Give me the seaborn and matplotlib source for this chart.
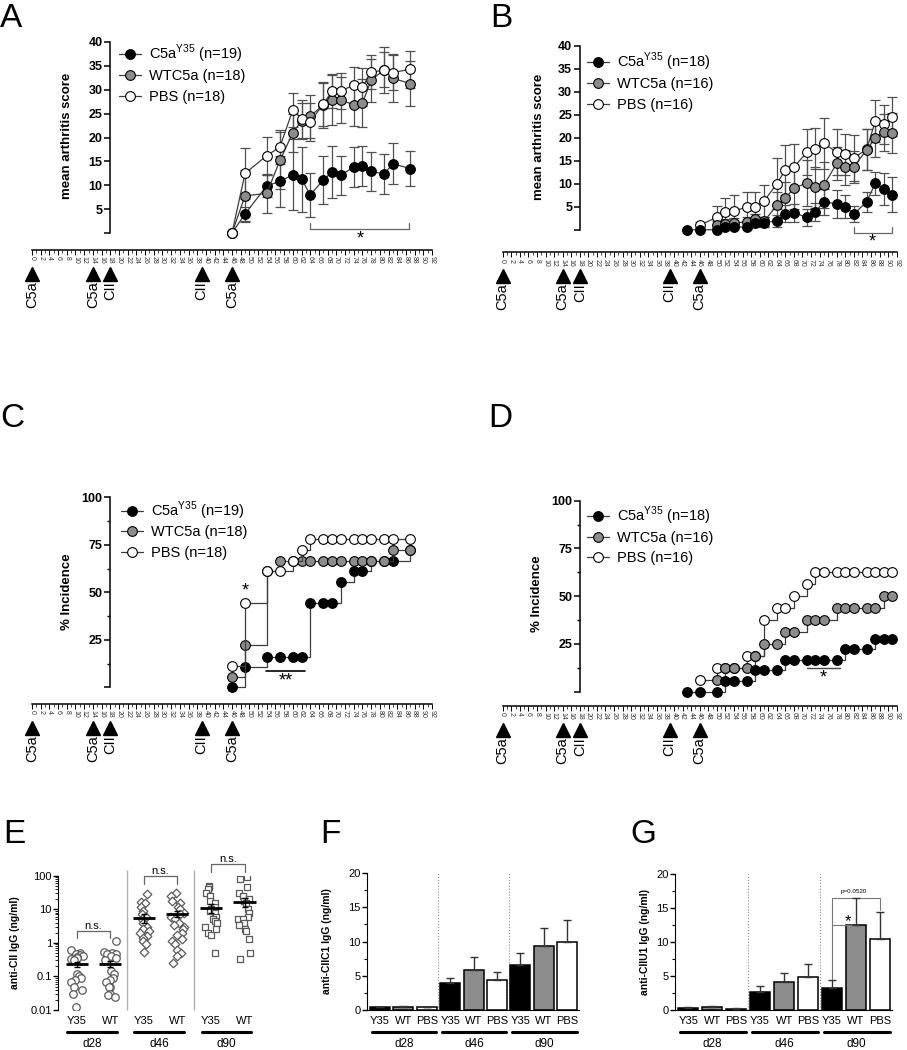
import warnings
import numpy as np
import pandas as pd
import matplotlib
matplotlib.use("Agg")
import matplotlib.pyplot as plt
import seaborn as sns
from matplotlib.lines import Line2D
from matplotlib.ticker import MultipleLocator, LogLocator, NullFormatter
from matplotlib.transforms import blended_transform_factory

warnings.filterwarnings("ignore")
np.random.seed(7)  # only for the horizontal jitter of the dot plot

# ---------------- data ----------------
# A: mean arthritis score (mean, SEM)
days_a = [46, 49, 54, 57, 60, 62, 64, 67, 69, 71, 74, 76, 78, 81, 83, 87]
a_y35 = [0, 4.0, 9.9, 10.8, 12.2, 11.3, 8.0, 11.1, 12.8, 12.1, 13.8, 14.1, 12.9, 12.4, 14.5, 13.5]
a_y35_sem = [0, 1.5, 2.3, 5.3, 7.4, 6.8, 4.6, 5.0, 5.4, 4.1, 4.2, 4.2, 4.0, 4.2, 4.3, 3.7]
a_wt = [0, 7.8, 8.3, 15.2, 21.0, 23.5, 24.5, 26.8, 27.9, 27.8, 26.9, 27.2, 32.0, 34.2, 32.4, 31.3]
a_wt_sem = [0, 5.5, 4.0, 6.0, 4.0, 3.8, 4.5, 4.8, 5.2, 4.8, 4.5, 5.0, 4.5, 3.7, 5.0, 4.8]
a_pbs = [0, 12.5, 16.2, 18.0, 25.8, 23.9, 23.3, 27.0, 29.7, 29.7, 31.0, 30.6, 33.7, 34.1, 33.6, 34.3]
a_pbs_sem = [0, 5.3, 4.0, 3.5, 3.6, 4.0, 4.0, 4.5, 3.5, 3.8, 3.8, 4.0, 3.5, 4.8, 3.7, 3.9]

# B: mean arthritis score (mean, SEM)
days_b_y35 = [43, 46, 50, 52, 54, 57, 59, 61, 64, 66, 68, 71, 73, 75, 78, 80, 82, 85, 87, 89, 91]
b_y35 = [0, 0, 0, 0.7, 0.7, 0.5, 1.5, 1.5, 2.0, 3.5, 3.7, 2.7, 3.9, 6.1, 5.6, 5.0, 3.4, 6.1, 10.1, 8.8, 7.6]
b_y35_sem = [0, 0, 0.3, 0.4, 0.4, 0.4, 0.8, 0.8, 1.3, 1.8, 2.0, 1.8, 2.0, 2.8, 3.0, 2.5, 1.8, 2.2, 2.5, 3.5, 3.8]
days_b_wt = [50, 52, 54, 57, 59, 61, 64, 66, 68, 71, 73, 75, 78, 80, 82, 85, 87, 89, 91]
b_wt = [1.0, 1.3, 1.5, 1.7, 2.3, 1.8, 5.3, 6.8, 9.1, 10.1, 9.2, 9.7, 14.4, 13.6, 13.7, 17.4, 19.9, 21.2, 21.0]
b_wt_sem = [0.8, 1.0, 1.0, 1.0, 1.2, 1.0, 3.0, 3.5, 4.5, 5.0, 4.5, 5.0, 3.5, 3.8, 3.5, 4.5, 4.0, 4.0, 4.3]
days_b_pbs = [46, 50, 52, 54, 57, 59, 61, 64, 66, 68, 71, 73, 75, 78, 80, 82, 85, 87, 89, 91]
b_pbs = [1.0, 2.7, 3.8, 4.1, 4.9, 4.9, 6.2, 10.0, 13.0, 13.6, 16.8, 17.6, 18.8, 16.8, 16.4, 15.6, 17.5, 23.6, 22.9, 24.6]
b_pbs_sem = [0.7, 2.5, 3.0, 3.5, 3.2, 3.2, 3.5, 5.5, 5.5, 5.0, 5.0, 4.5, 5.5, 5.0, 4.5, 5.0, 4.5, 4.5, 4.3, 4.3]

# C: % incidence
days_c = [46, 49, 54, 57, 60, 62, 64, 67, 69, 71, 74, 76, 78, 81, 83, 87]
c_y35 = [0, 10.5, 15.8, 15.8, 15.8, 15.8, 44.4, 44.4, 44.4, 55.6, 61.1, 61.1, 66.7, 66.7, 66.7, 72.2]
c_wt = [5.6, 22.2, 61.1, 66.7, 66.7, 66.7, 66.7, 66.7, 66.7, 66.7, 66.7, 66.7, 66.7, 66.7, 72.2, 72.2]
c_pbs = [11.1, 44.4, 61.1, 61.1, 66.7, 72.2, 77.8, 77.8, 77.8, 77.8, 77.8, 77.8, 77.8, 77.8, 77.8, 77.8]

# D: % incidence
days_d_y35 = [43, 46, 50, 52, 54, 57, 59, 61, 64, 66, 68, 71, 73, 75, 78, 80, 82, 85, 87, 89, 91]
d_y35 = [0, 0, 0, 5.6, 5.6, 5.6, 11.1, 11.1, 11.1, 16.7, 16.7, 16.7, 16.7, 16.7, 16.7, 22.2, 22.2, 22.2, 27.8, 27.8, 27.8]
days_d_wt = [50, 52, 54, 57, 59, 61, 64, 66, 68, 71, 73, 75, 78, 80, 82, 85, 87, 89, 91]
d_wt = [6.25, 12.5, 12.5, 12.5, 18.75, 25.0, 25.0, 31.25, 31.25, 37.5, 37.5, 37.5, 43.75, 43.75, 43.75, 43.75, 43.75, 50.0, 50.0]
days_d_pbs = [46, 50, 52, 54, 57, 59, 61, 64, 66, 68, 71, 73, 75, 78, 80, 82, 85, 87, 89, 91]
d_pbs = [6.25, 12.5, 12.5, 12.5, 18.75, 18.75, 37.5, 43.75, 43.75, 50.0, 56.25, 62.5, 62.5, 62.5, 62.5, 62.5, 62.5, 62.5, 62.5, 62.5]

# injection schedule
inject_days = [0, 14, 18, 39, 46]
inject_labels = ["C5a", "C5a", "CII", "CII", "C5a"]

# E: anti-CII IgG (ng/ml), individual mice
e_y35_d28 = [0.6, 0.5, 0.45, 0.42, 0.4, 0.38, 0.35, 0.32, 0.3, 0.12, 0.1, 0.09, 0.08, 0.07, 0.05, 0.04, 0.03, 0.012]
e_wt_d28 = [1.1, 0.55, 0.5, 0.48, 0.45, 0.4, 0.35, 0.3, 0.15, 0.12, 0.09, 0.08, 0.07, 0.05, 0.05, 0.03, 0.028, 0.025]
e_y35_d46 = [28, 16, 15, 12, 9, 7, 6, 5, 4, 3, 2.5, 2.2, 2, 1.6, 1.4, 1.1, 0.9, 0.55]
e_wt_d46 = [30, 25, 18, 15, 12, 10, 8, 7, 6, 5, 4, 3.5, 3, 2.5, 2, 1.7, 1.3, 1.1, 0.9, 0.6, 0.5, 0.4, 0.25]
e_y35_d90 = [50, 45, 40, 30, 25, 18, 15, 12, 10, 9, 8, 6, 5, 4.5, 4, 3, 2.5, 2, 1.7, 0.5]
e_wt_d90 = [90, 80, 45, 30, 25, 20, 18, 15, 10, 8, 6, 5, 5, 4, 3.5, 2.5, 2.2, 1.3, 0.5, 0.33]
e_means = [0.23, 0.24, 5.5, 7.3, 11, 17]
e_sems = [0.04, 0.05, 1.5, 1.5, 3, 5]
e_ticks = ["Y35", "WT", "Y35", "WT", "Y35", "WT"]
day_groups = ["d28", "d46", "d90"]

# F / G: bars (mean, SEM)
bar_ticks = ["Y35", "WT", "PBS"] * 3
f_vals = [0.4, 0.5, 0.4, 3.9, 5.9, 4.4, 6.5, 9.3, 10.0]
f_sem = [0.05, 0.06, 0.05, 0.7, 1.9, 1.1, 1.8, 2.7, 3.2]
g_vals = [0.35, 0.45, 0.2, 2.6, 4.2, 4.8, 3.3, 12.6, 10.4]
g_sem = [0.05, 0.08, 0.03, 0.9, 1.3, 2.0, 1.1, 3.9, 4.0]

# ---------------- style ----------------
sns.set_style("ticks")
plt.rcParams["font.family"] = ["Liberation Sans", "DejaVu Sans"]
plt.rcParams.update({
    "text.color": "black",
    "axes.edgecolor": "black",
    "xtick.color": "black",
    "ytick.color": "black",
    "axes.labelcolor": "black",
})

BLACK, GRAY, WHITE = "black", "#8c8c8c", "white"
LINE = "#3c3c3c"
ERR = "#505050"

W, H = 907, 1050
fig = plt.figure(figsize=(W / 100, H / 100), dpi=100)


def fx(px):
    return px / W


def fy(py):
    return 1 - py / H


def add_ax(l, r, t, b):
    return fig.add_axes([fx(l), fy(b), (r - l) / W, (b - t) / H])


def legend_rows(xm, ys, labels):
    for y, lab, fc in zip(ys, labels, [BLACK, GRAY, WHITE]):
        fig.add_artist(Line2D([fx(xm - 11), fx(xm + 11)], [fy(y), fy(y)], color=LINE, lw=0.9))
        fig.add_artist(Line2D([fx(xm)], [fy(y)], marker="o", ms=7, mfc=fc, mec="k", mew=0.8))
        fig.text(fx(xm + 19), fy(y + 5), lab, ha="left", va="baseline", fontsize=10.5)


def mean_series(ax, days, vals, sem, fc, z):
    ax.errorbar(days, vals, yerr=sem, fmt="none", ecolor=ERR, elinewidth=0.9,
                capsize=3.6, capthick=0.9, zorder=1)
    sns.lineplot(x=days, y=vals, ax=ax, color=LINE, lw=0.9, marker="o", markersize=7,
                 markerfacecolor=fc, markeredgecolor="k", markeredgewidth=0.8,
                 errorbar=None, zorder=z, clip_on=False)


def step_series(ax, days, vals, fc, z):
    sns.lineplot(x=days, y=vals, ax=ax, color=LINE, lw=0.9, drawstyle="steps-post",
                 marker="o", markersize=7, markerfacecolor=fc, markeredgecolor="k",
                 markeredgewidth=0.8, errorbar=None, zorder=z, clip_on=False)


def time_axis(ax, ymin, ymax, ystep, ylab, lab_xy, axis_py, minor=None):
    ax.set_xlim(0, 92)
    ax.set_ylim(ymin, ymax)
    sns.despine(ax=ax)
    ax.spines["left"].set_position(("data", 18))
    ax.spines["left"].set_bounds(0, ymax)
    ax.spines["left"].set_linewidth(1.1)
    ax.spines["bottom"].set_linewidth(1.1)
    yt = list(range(0, ymax + 1, ystep))
    ax.set_yticks(yt)
    ax.set_yticklabels([""] + [str(v) for v in yt[1:]], fontsize=9, fontweight="bold")
    if minor:
        ax.yaxis.set_minor_locator(MultipleLocator(minor))
        ax.tick_params(axis="y", which="minor", length=2.5, width=1)
    ax.set_xticks(range(0, 93, 2))
    ax.set_xticks(range(0, 93), minor=True)
    ax.set_xticklabels([str(d) for d in range(0, 93, 2)], rotation=-90, fontsize=5,
                       color="#333")
    ax.tick_params(axis="x", which="major", length=3.5, width=0.7, pad=1)
    ax.tick_params(axis="x", which="minor", length=2, width=0.5)
    ax.tick_params(axis="y", which="major", length=4, width=1.1, pad=1.5)
    ax.set_xlabel("")
    ax.set_ylabel(ylab, fontsize=9.5, fontweight="bold")
    ax.yaxis.set_label_coords(*lab_xy)
    ax.yaxis.label.set_va("center")
    trans = blended_transform_factory(ax.transData, fig.transFigure)
    for d, lab in zip(inject_days, inject_labels):
        ax.plot([d], [fy(axis_py + 24)], marker="^", ms=9.5, color="k",
                transform=trans, clip_on=False)
        ax.text(d, fy(axis_py + 31), lab, rotation=90, ha="center", va="top",
                fontsize=10.5, transform=trans)


# ---------------- A ----------------
ax_a = add_ax(32, 432, 42, 250)
mean_series(ax_a, days_a, a_y35, a_y35_sem, BLACK, 2)
mean_series(ax_a, days_a, a_wt, a_wt_sem, GRAY, 3)
mean_series(ax_a, days_a, a_pbs, a_pbs_sem, WHITE, 4)
time_axis(ax_a, -3.55, 40, 5, "mean arthritis score", (0.0875, 0.55), 250)
ax_a.plot([64, 64, 86.6, 86.6], [2.2, 0.8, 0.8, 2.2], color="#666", lw=0.9)
ax_a.text(75.6, -1.3, "*", ha="center", va="center", fontsize=13)
legend_rows(130, [54, 75, 96], [r"C5a$^{\mathregular{Y35}}$ (n=19)", "WTC5a (n=18)", "PBS (n=18)"])

# ---------------- B ----------------
ax_b = add_ax(502.7, 896.7, 45.7, 252.3)
mean_series(ax_b, days_b_pbs, b_pbs, b_pbs_sem, WHITE, 2)
mean_series(ax_b, days_b_wt, b_wt, b_wt_sem, GRAY, 3)
mean_series(ax_b, days_b_y35, b_y35, b_y35_sem, BLACK, 4)
time_axis(ax_b, -4.9, 40, 5, "mean arthritis score", (0.092, 0.56), 252.3)
ax_b.plot([82, 82, 91, 91], [0.7, -0.6, -0.6, 0.7], color="#666", lw=0.9)
ax_b.text(86.4, -2.6, "*", ha="center", va="center", fontsize=13)
legend_rows(598, [62, 83, 104], [r"C5a$^{\mathregular{Y35}}$ (n=18)", "WTC5a (n=16)", "PBS (n=16)"])

# ---------------- C ----------------
ax_c = add_ax(32, 432, 497.3, 704)
step_series(ax_c, days_c, c_y35, BLACK, 2)
step_series(ax_c, days_c, c_wt, GRAY, 3)
step_series(ax_c, days_c, c_pbs, WHITE, 4)
time_axis(ax_c, -8.8, 100, 25, "% Incidence", (0.087, 0.543), 704, minor=12.5)
ax_c.text(49, 50.5, "*", ha="center", va="center", fontsize=13)
ax_c.plot([53.8, 62.8], [8.6, 8.6], color="k", lw=1.2)
ax_c.text(58.3, 3.2, "**", ha="center", va="center", fontsize=13)
legend_rows(132, [511, 531, 552], [r"C5a$^{\mathregular{Y35}}$ (n=19)", "WTC5a (n=18)", "PBS (n=18)"])

# ---------------- D ----------------
ax_d = add_ax(502.7, 896.7, 500.7, 706)
step_series(ax_d, days_d_pbs, d_pbs, WHITE, 2)
step_series(ax_d, days_d_wt, d_wt, GRAY, 3)
step_series(ax_d, days_d_y35, d_y35, BLACK, 4)
time_axis(ax_d, -7.5, 100, 25, "% Incidence", (0.086, 0.549), 706, minor=12.5)
ax_d.plot([71, 78.7], [12.2, 12.2], color="#444", lw=1.0)
ax_d.text(74.9, 7.2, "*", ha="center", va="center", fontsize=13)
legend_rows(598, [516, 537, 557], [r"C5a$^{\mathregular{Y35}}$ (n=18)", "WTC5a (n=16)", "PBS (n=16)"])

# ---------------- E ----------------
e_keys = ["Y35_d28", "WT_d28", "Y35_d46", "WT_d46", "Y35_d90", "WT_d90"]
e_lists = [e_y35_d28, e_wt_d28, e_y35_d46, e_wt_d46, e_y35_d90, e_wt_d90]
df_e = pd.concat([pd.DataFrame({"key": k, "value": v}) for k, v in zip(e_keys, e_lists)],
                 ignore_index=True)

ax_e = add_ax(58.2, 263, 875.7, 1010)
for keys, mk, sz in [(e_keys[0:2], "o", 5.4), (e_keys[2:4], "D", 4.4), (e_keys[4:6], "s", 5.0)]:
    sub = df_e[df_e["key"].isin(keys)]
    sns.stripplot(data=sub, x="key", y="value", order=e_keys, marker=mk, size=sz,
                  jitter=0.2, color="white", edgecolor="#5a5a5a", linewidth=0.9,
                  log_scale=True, ax=ax_e, zorder=2)
ax_e.hlines(e_means, np.arange(6) - 0.33, np.arange(6) + 0.33, color="k", lw=2, zorder=5)
ax_e.errorbar(range(6), e_means, yerr=e_sems, fmt="none", ecolor="k", elinewidth=1,
              capsize=2.2, capthick=1, zorder=5)
ax_e.set_yscale("log")
ax_e.set_ylim(0.01, 100)
ax_e.set_xlim(-0.55, 5.55)
ax_e.vlines([1.5, 3.5], 0.01, 150, colors="#b0b0b0", lw=1.0, clip_on=False)
for (x0, x1, ytop, yend) in [(0, 1, 2.3, 1.35), (2, 3, 100, 58), (4, 5, 220, 125)]:
    ax_e.plot([x0, x0, x1, x1], [yend, ytop, ytop, yend], color="#666", lw=0.9, clip_on=False)
    ax_e.text((x0 + x1) / 2, ytop * 1.15, "n.s.", ha="center", va="baseline", fontsize=8)
ax_e.set_yticks([0.01, 0.1, 1, 10, 100])
ax_e.set_yticklabels(["0.01", "0.1", "1", "10", "100"], fontsize=8)
ax_e.yaxis.set_minor_locator(LogLocator(base=10, subs=np.arange(2, 10)))
ax_e.yaxis.set_minor_formatter(NullFormatter())
ax_e.tick_params(axis="y", which="major", length=3.5, width=1, pad=1)
ax_e.tick_params(axis="y", which="minor", length=2, width=0.6)
ax_e.set_xticks(range(6))
ax_e.set_xticklabels(e_ticks, fontsize=8)
ax_e.tick_params(axis="x", length=0, pad=4)
sns.despine(ax=ax_e, bottom=True)
ax_e.set_xlabel("")
ax_e.set_ylabel("anti-CII IgG (ng/ml)", fontsize=7.5, fontweight="bold")
ax_e.yaxis.set_label_coords(-0.211, 0.5)
ax_e.yaxis.label.set_va("center")
trans_e = blended_transform_factory(ax_e.transData, fig.transFigure)
for i, g in enumerate(day_groups):
    ax_e.plot([2 * i - 0.28, 2 * i + 1.2], [fy(1032)] * 2, color="k", lw=2.2,
              transform=trans_e, clip_on=False)
    ax_e.text(2 * i + 0.46, fy(1044), g, ha="center", va="center", fontsize=8.5,
              transform=trans_e)


# ---------------- F / G ----------------
bar_keys = [f"{t}_{g}" for g in day_groups for t in ["Y35", "WT", "PBS"]]
bar_colors = [BLACK, GRAY, WHITE] * 3


def bar_panel(ax, vals, sem, ylab, lab_x):
    sns.barplot(x=bar_keys, y=vals, hue=bar_keys, order=bar_keys, hue_order=bar_keys,
                palette=bar_colors, saturation=1, width=0.85, edgecolor="k",
                linewidth=1.1, legend=False, ax=ax, zorder=2)
    ax.errorbar(range(9), vals, yerr=[[0] * 9, sem], fmt="none", ecolor="#333",
                elinewidth=1, capsize=3, capthick=1, zorder=3)
    ax.set_xlim(-0.55, 8.5)
    ax.set_ylim(0, 20)
    for xs in [2.5, 5.5]:
        ax.axvline(xs, color="#888", ls=":", lw=0.8, zorder=1)
    sns.despine(ax=ax)
    ax.set_yticks([0, 5, 10, 15, 20])
    ax.set_yticklabels(["0", "5", "10", "15", "20"], fontsize=8)
    ax.yaxis.set_minor_locator(MultipleLocator(2.5))
    ax.tick_params(axis="y", which="major", length=3.5, width=1, pad=1)
    ax.tick_params(axis="y", which="minor", length=2, width=0.8)
    ax.set_xticks(range(9))
    ax.set_xticklabels(bar_ticks, fontsize=8)
    ax.tick_params(axis="x", length=0, pad=4)
    ax.set_xlabel("")
    ax.set_ylabel(ylab, fontsize=7.5, fontweight="bold")
    ax.yaxis.set_label_coords(lab_x, 0.5)
    ax.yaxis.label.set_va("center")
    trans = blended_transform_factory(ax.transData, fig.transFigure)
    for i, g in enumerate(day_groups):
        ax.plot([3 * i - 0.35, 3 * i + 2.4], [fy(1032)] * 2, color="k", lw=2.2,
                transform=trans, clip_on=False)
        ax.text(3 * i + 1.02, fy(1044), g, ha="center", va="center", fontsize=8.5,
                transform=trans)


ax_f = add_ax(367, 579, 873, 1010)
bar_panel(ax_f, f_vals, f_sem, "anti-CIIC1 IgG (ng/ml)", -0.189)

ax_g = add_ax(675, 892, 874.3, 1010)
bar_panel(ax_g, g_vals, g_sem, "anti-CIIU1 IgG (ng/ml)", -0.138)
ax_g.plot([6, 6, 8, 8], [4.6, 16.5, 16.5, 14.8], color="#777", lw=0.8, clip_on=False)
ax_g.plot([6, 7], [12.5, 12.5], color="#777", lw=0.8)
ax_g.text(6.67, 13.0, "*", ha="center", va="center", fontsize=12)
ax_g.text(6.9, 17.1, "p=0.0520", ha="center", va="bottom", fontsize=4.5)

# ---------------- panel letters ----------------
for lab, x, y in [("A", 0, 27), ("B", 490, 27), ("C", 0, 427), ("D", 488, 427),
                  ("E", 3, 843), ("F", 320, 843), ("G", 630, 843)]:
    fig.text(fx(x), fy(y), lab, fontsize=24, ha="left", va="baseline")

fig.savefig("out.png", dpi=100)
